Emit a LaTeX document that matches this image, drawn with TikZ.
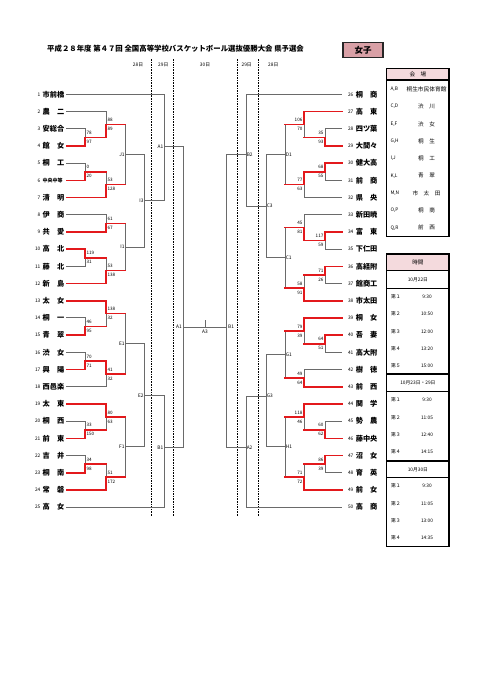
\documentclass[tikz,border=0pt]{standalone}
\usepackage{fontspec}
\setmainfont{Noto Sans CJK JP}
\definecolor{wred}{HTML}{E3191C}
\definecolor{lgray}{HTML}{6A6A6A}
\definecolor{pinkA}{HTML}{D9A0A6}
\definecolor{pinkB}{HTML}{F4DADD}
\pgfdeclarelayer{top}
\pgfsetlayers{main,top}
\tikzset{
  ln/.style={draw=lgray, line width=0.9pt, line cap=rect},
  win/.style={draw=wred, line width=1.6pt, line cap=rect},
  dsh/.style={draw=black, line width=0.8pt, dash pattern=on 1.6pt off 1pt},
  sc/.style={inner sep=0pt, font=\fontsize{4.6}{5}\selectfont},
  rl/.style={inner sep=0pt, font=\fontsize{4.8}{5}\selectfont},
  tnum/.style={inner sep=0pt, font=\fontsize{4.8}{5}\selectfont},
  tname/.style={inner sep=0pt, font=\fontsize{7.2}{8}\selectfont\bfseries},
  tbl/.style={draw=black, line width=1.1pt},
  tsm/.style={inner sep=0pt, font=\fontsize{4.8}{5}\selectfont},
  tmd/.style={inner sep=0pt, font=\fontsize{5.6}{6}\selectfont},
}
% left match: name, x, ytop, ybot, ymid, xout, winner, score top, score bottom
\newcommand\ML[9]{%
  \coordinate (#1) at (#6,#5);
  \draw[ln] (#2,#3) -- (#2,#4) (#2,#5) -- (#1);
  \ifcase#7\or
    \begin{pgfonlayer}{top}\draw[win] (#2,#3) -- (#2,#5) -- (#1);\end{pgfonlayer}%
  \or
    \begin{pgfonlayer}{top}\draw[win] (#2,#4) -- (#2,#5) -- (#1);\end{pgfonlayer}%
  \fi
  \node[sc,anchor=west] (#1a) at ({#2+1.4},{#5-4.4}) {#8};
  \node[sc,anchor=west] (#1b) at ({#2+1.4},{#5+4.6}) {#9};
}
\newcommand\MR[9]{%
  \coordinate (#1) at (#6,#5);
  \draw[ln] (#2,#3) -- (#2,#4) (#2,#5) -- (#1);
  \ifcase#7\or
    \begin{pgfonlayer}{top}\draw[win] (#2,#3) -- (#2,#5) -- (#1);\end{pgfonlayer}%
  \or
    \begin{pgfonlayer}{top}\draw[win] (#2,#4) -- (#2,#5) -- (#1);\end{pgfonlayer}%
  \fi
  \node[sc,anchor=east] (#1a) at ({#2-1.4},{#5-4.4}) {#8};
  \node[sc,anchor=east] (#1b) at ({#2-1.4},{#5+4.6}) {#9};
}
% round (undecided): name, x, ytop, ybot, ymid, xout, label
\newcommand\RL[7]{%
  \coordinate (#1) at (#6,#5);
  \draw[ln] (#2,#3) -- (#2,#4) (#2,#5) -- (#1);
  \node[rl,anchor=east] (#1l) at ({#2-0.6},#5) {#7};
}
\newcommand\RR[7]{%
  \coordinate (#1) at (#6,#5);
  \draw[ln] (#2,#3) -- (#2,#4) (#2,#5) -- (#1);
  \node[rl,anchor=west] (#1l) at ({#2+0.6},#5) {#7};
}
% teams: index, y, name, xend, red
\newcommand\TL[5]{%
  \node[tnum,anchor=east] (ln#1) at (40.6,#2) {#1};
  \node[tname,anchor=west] (lt#1) at (42.4,#2) {#3};
  \coordinate (ls#1) at (66.7,#2);
  \coordinate (le#1) at (#4,#2);
  \ifnum#5=1
    \begin{pgfonlayer}{top}\draw[win] (ls#1) -- (le#1);\end{pgfonlayer}%
  \else
    \draw[ln] (ls#1) -- (le#1);
  \fi
}
\newcommand\TR[5]{%
  \node[tnum,anchor=west] (rn#1) at (347.8,#2) {#1};
  \node[tname,anchor=west] (rt#1) at (355.6,#2) {#3};
  \coordinate (rs#1) at (341.7,#2);
  \coordinate (re#1) at (#4,#2);
  \ifnum#5=1
    \begin{pgfonlayer}{top}\draw[win] (rs#1) -- (re#1);\end{pgfonlayer}%
  \else
    \draw[ln] (rs#1) -- (re#1);
  \fi
}
\begin{document}
\begin{tikzpicture}[x=1pt,y=-1pt]
\useasboundingbox (0,0) rectangle (481,680);
\fill[white] (0,0) rectangle (481,680);

% title
\node[inner sep=0pt,anchor=west,font=\fontsize{7.4}{8}\selectfont\bfseries] (title) at (47,48.5)
  {平成２８年度 第４７回 全国高等学校バスケットボール選抜優勝大会 県予選会};
\node[draw=black!85, line width=1.2pt, fill=pinkA, minimum width=40pt, minimum height=15pt,
  inner sep=0pt, font=\fontsize{8.5}{9}\selectfont\bfseries] (girls) at (363,49.8) {女子};

% dates and dashed separators
\node[tsm] (dt1) at (138,64.5) {28日};
\node[tsm] (dt2) at (163.3,64.5) {29日};
\node[tsm] (dt3) at (205,64.5) {30日};
\node[tsm] (dt4) at (246.7,64.5) {29日};
\node[tsm] (dt5) at (273.3,64.5) {28日};
\foreach \xx/\nm in {151/a,173.3/b,237.7/c,258.3/d}{
  \coordinate (dash\nm t) at (\xx,59);
  \coordinate (dash\nm b) at (\xx,516);
  \draw[dsh] (dash\nm t) -- (dash\nm b);
}

% left teams
\TL{1}{94.3}{市前橋}{164}{0}
\TL{2}{111.5}{農　二}{106}{0}
\TL{3}{128.7}{安総合}{85}{0}
\TL{4}{145.9}{館　女}{85}{1}
\TL{5}{163.1}{桐　工}{85}{0}
\TL{6}{180.3}{{\fontsize{5}{5}\selectfont 中央中等}}{85}{1}
\TL{7}{197.5}{清　明}{106}{1}
\TL{8}{214.7}{伊　商}{106}{0}
\TL{9}{231.9}{共　愛}{106}{1}
\TL{10}{249.1}{高　北}{85}{1}
\TL{11}{266.3}{藤　北}{85}{0}
\TL{12}{283.5}{新　島}{106}{1}
\TL{13}{300.7}{太　女}{106}{1}
\TL{14}{317.9}{桐　一}{85}{0}
\TL{15}{335.1}{青　翠}{85}{1}
\TL{16}{352.3}{渋　女}{85}{0}
\TL{17}{369.5}{興　陽}{85}{1}
\TL{18}{386.7}{西邑楽}{106}{0}
\TL{19}{403.9}{太　東}{106}{1}
\TL{20}{421.1}{桐　西}{85}{0}
\TL{21}{438.3}{前　東}{85}{1}
\TL{22}{455.5}{吉　井}{85}{0}
\TL{23}{472.7}{桐　南}{85}{1}
\TL{24}{489.9}{常　磐}{106}{1}
\TL{25}{507.1}{高　女}{164}{0}

% right teams
\TR{26}{94.3}{桐　商}{246}{0}
\TR{27}{111.5}{高　東}{304}{1}
\TR{28}{128.7}{四ツ葉}{325}{0}
\TR{29}{145.9}{大間々}{325}{1}
\TR{30}{163.1}{健大高}{325}{1}
\TR{31}{180.3}{前　商}{325}{0}
\TR{32}{197.5}{県　央}{304}{0}
\TR{33}{214.7}{新田暁}{304}{0}
\TR{34}{231.9}{富　東}{325}{1}
\TR{35}{249.1}{下仁田}{325}{0}
\TR{36}{266.3}{高経附}{325}{1}
\TR{37}{283.5}{館商工}{325}{0}
\TR{38}{300.7}{市太田}{304}{1}
\TR{39}{317.9}{桐　女}{304}{1}
\TR{40}{335.1}{吾　妻}{325}{1}
\TR{41}{352.3}{高大附}{325}{0}
\TR{42}{369.5}{樹　徳}{304}{0}
\TR{43}{386.7}{前　西}{304}{1}
\TR{44}{403.9}{関　学}{304}{1}
\TR{45}{421.1}{勢　農}{325}{0}
\TR{46}{438.3}{藤中央}{325}{1}
\TR{47}{455.5}{沼　女}{325}{1}
\TR{48}{472.7}{育　英}{325}{0}
\TR{49}{489.9}{前　女}{304}{1}
\TR{50}{507.1}{高　商}{246}{0}

% left bracket
\ML{ma}{85}{128.7}{145.9}{137.3}{106}{2}{78}{97}
\ML{mb}{106}{111.5}{137.3}{124.4}{125.3}{2}{88}{89}
\ML{mc}{85}{163.1}{180.3}{171.7}{106}{2}{0}{20}
\ML{md}{106}{171.7}{197.5}{184.6}{125.3}{2}{53}{128}
\RL{J1}{125.3}{124.4}{184.6}{154.5}{144.3}{J1}
\ML{me}{106}{214.7}{231.9}{223.3}{125.3}{2}{61}{67}
\ML{mf}{85}{249.1}{266.3}{257.7}{106}{1}{119}{31}
\ML{mg}{106}{257.7}{283.5}{270.6}{125.3}{2}{53}{138}
\RL{I1}{125.3}{223.3}{270.6}{247}{144.3}{I1}
\RL{I3}{144.3}{154.5}{247}{200.7}{164}{I3}
\RL{A1L}{164}{94.3}{200.7}{146.5}{183.3}{A1}
\ML{mh}{85}{317.9}{335.1}{326.5}{106}{2}{46}{95}
\ML{mi}{106}{300.7}{326.5}{313.6}{125.3}{1}{138}{32}
\ML{mj}{85}{352.3}{369.5}{360.9}{106}{2}{70}{71}
\ML{mk}{106}{360.9}{386.7}{373.8}{125.3}{1}{41}{32}
\RL{E1}{125.3}{313.6}{373.8}{343.7}{144.3}{E1}
\ML{ml}{85}{421.1}{438.3}{429.7}{106}{2}{33}{150}
\ML{mm}{106}{403.9}{429.7}{416.8}{125.3}{1}{80}{63}
\ML{mn}{85}{455.5}{472.7}{464.1}{106}{2}{34}{98}
\ML{mo}{106}{464.1}{489.9}{477}{125.3}{2}{51}{172}
\RL{F1}{125.3}{416.8}{477}{446.9}{144.3}{F1}
\RL{E2}{144.3}{343.7}{446.9}{395.5}{164}{E2}
\RL{B1L}{164}{395.5}{507.1}{447.5}{183.3}{B1}

% right bracket
\MR{na}{325}{128.7}{145.9}{137.3}{304}{2}{35}{93}
\MR{nb}{304}{111.5}{137.3}{124.4}{285}{1}{106}{70}
\MR{nc}{325}{163.1}{180.3}{171.7}{304}{1}{68}{55}
\MR{nd}{304}{171.7}{197.5}{184.6}{285}{1}{77}{63}
\RR{D1}{285}{124.4}{184.6}{154.5}{266}{D1}
\MR{ne}{325}{231.9}{249.1}{240.5}{304}{1}{117}{59}
\MR{nf}{304}{214.7}{240.5}{227.6}{285}{2}{45}{81}
\MR{ng}{325}{266.3}{283.5}{274.9}{304}{1}{71}{26}
\MR{nh}{304}{274.9}{300.7}{287.8}{285}{2}{58}{91}
\RR{C1}{285}{227.6}{287.8}{257.7}{266}{C1}
\RR{C3}{266}{154.5}{257.7}{206}{246}{C3}
\RR{B2}{246}{94.3}{206}{154.5}{226.7}{B2}
\MR{ni}{325}{335.1}{352.3}{343.7}{304}{1}{64}{51}
\MR{nj}{304}{317.9}{343.7}{330.8}{285}{1}{79}{39}
\MR{nk}{304}{369.5}{386.7}{378.1}{285}{2}{49}{64}
\RR{G1}{285}{330.8}{378.1}{354.5}{266}{G1}
\MR{nl}{325}{421.1}{438.3}{429.7}{304}{2}{60}{62}
\MR{nm}{304}{403.9}{429.7}{416.8}{285}{1}{118}{46}
\MR{nn}{325}{455.5}{472.7}{464.1}{304}{1}{86}{39}
\MR{no}{304}{464.1}{489.9}{477}{285}{2}{71}{72}
\RR{H1}{285}{416.8}{477}{446.9}{266}{H1}
\RR{G3}{266}{354.5}{446.9}{396}{246}{G3}
\RR{A2}{246}{396}{507.1}{447.5}{226.7}{A2}

% final
\coordinate (fL) at (183.3,327);
\coordinate (fR) at (226.7,327);
\coordinate (fT) at (205,320.5);
\coordinate (fM) at (205,327);
\draw[ln] (A1L) -- (B1L);
\draw[ln] (B2) -- (A2);
\draw[ln] (fL) -- (fR);
\draw[ln] (fT) -- (fM);
\node[rl,anchor=east] (fA1) at (182,327) {A1};
\node[rl,anchor=west] (fB1) at (228,327) {B1};
\node[rl,anchor=north] (fA3) at (205,329.5) {A3};

% venue table
\fill[pinkB] (386.7,68.3) rectangle (449,80);
\draw[tbl] (386.7,68.3) rectangle (449,236.7);
\draw[tbl] (386.7,80) -- (449,80);
\node[tmd] (vh) at (417.9,74.2) {会　場};
\foreach \k/\ab/\nm in {0/{A,B}/{\fontsize{5.7}{6}\selectfont 桐生市民体育館},1/{C,D}/渋　川,2/{E,F}/渋　女,3/{G,H}/桐　生,4/{I,J}/桐　工,5/{K,L}/青　翠,6/{M,N}/市　太　田,7/{O,P}/桐　商,8/{Q,R}/前　西}{
  \node[tsm,anchor=west] (va\k) at (390.3,{89.3+17.3*\k}) {\ab};
  \node[tmd] (vn\k) at (426.5,{89.3+17.3*\k}) {\nm};
}

% time table
\fill[pinkB] (386.7,254) rectangle (449,270.7);
\draw[tbl] (386.7,254) rectangle (449,546.7);
\foreach \yy in {270.7,288.3,374,391.7,461,477.7}{\draw[tbl] (386.7,\yy) -- (449,\yy);}
\node[tmd] (th) at (417.9,262.3) {時間};
\node[tsm] (td1) at (417.9,279.5) {10月22日};
\node[tsm] (td2) at (417.9,382.9) {10月23日・29日};
\node[tsm] (td3) at (417.9,469.4) {10月30日};
\foreach \y/\n/\t [count=\i] in {296.7/１/9:30,314/２/10:50,331.3/３/12:00,348.7/４/13:20,365.7/５/15:00,
  400/１/9:30,417.3/２/11:05,434.3/３/12:40,451.7/４/14:15,
  486/１/9:30,503.3/２/11:05,520.3/３/13:00,537.3/４/14:35}{
  \node[tsm,anchor=west] (tl\i) at (390.8,\y) {第\n};
  \node[tsm] (tt\i) at (427,\y) {\t};
}
\end{tikzpicture}
\end{document}
